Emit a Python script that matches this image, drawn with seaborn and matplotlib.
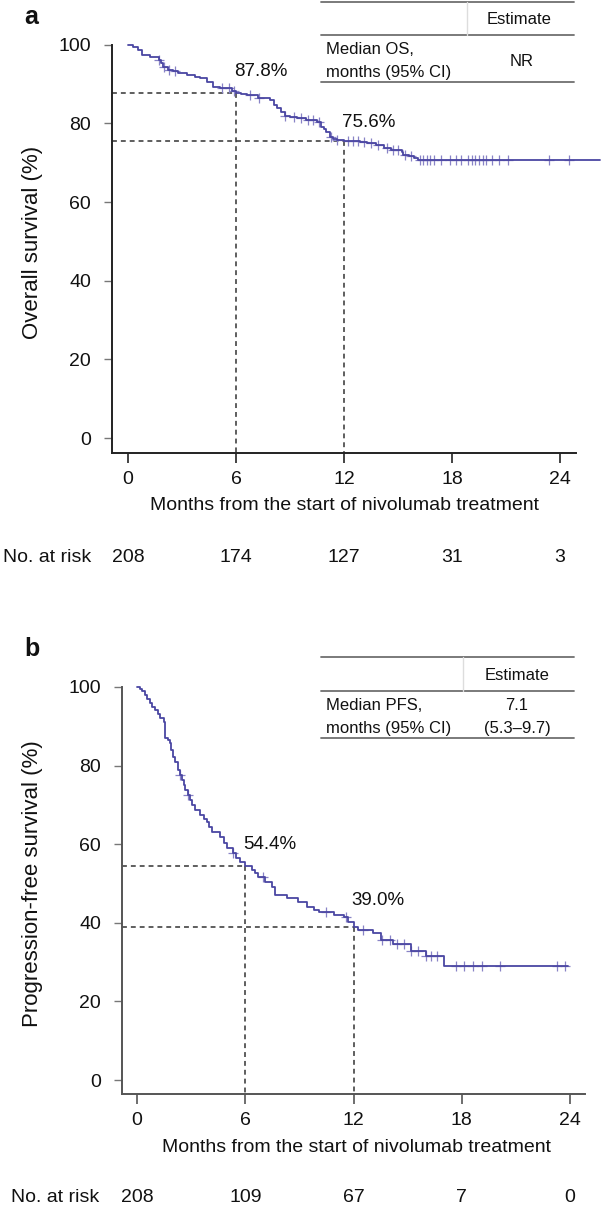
import numpy as np
import pandas as pd
import matplotlib
matplotlib.use("Agg")
import matplotlib.pyplot as plt
import seaborn as sns
from matplotlib.transforms import blended_transform_factory

# ---------------- data ----------------
x_ticks = [0, 6, 12, 18, 24]
y_ticks = [0, 20, 40, 60, 80, 100]

# Overall survival (panel a)
os_event_times = [0.3, 0.55, 0.8, 1.2, 1.7, 1.85, 1.95, 2.2, 2.5, 2.8, 3.3, 3.7, 4.0,
                  4.4, 4.7, 5.1, 5.5, 5.8, 6.0, 6.3, 6.6, 7.2, 7.9, 8.1, 8.3, 8.5,
                  8.7, 9.0, 9.4, 9.9, 10.5, 10.7, 10.9, 11.0, 11.2, 11.4, 11.6, 12.0,
                  12.9, 13.3, 13.8, 14.2, 14.6, 15.2, 15.3, 15.6, 15.9, 16.1]
os_surv = [99.5, 98.7, 97.4, 97.0, 96.1, 95.3, 94.4, 93.6, 93.2, 92.8, 92.3, 91.9, 91.5,
           90.5, 89.2, 89.1, 89.0, 88.2, 87.8, 87.5, 87.2, 86.4, 85.9, 84.7, 83.8, 82.9,
           82.0, 81.7, 81.4, 80.9, 80.3, 79.1, 78.5, 77.8, 76.5, 76.1, 75.8, 75.6,
           75.3, 75.0, 74.5, 73.7, 73.2, 72.7, 71.9, 71.6, 71.2, 70.6]
os_end_time = 26.2
os_censor_times = [1.7, 2.0, 2.3, 2.6, 5.2, 5.6, 5.9, 6.8, 7.3, 8.7, 9.2, 9.6, 10.0,
                   10.3, 10.6, 11.3, 11.6, 12.2, 12.5, 12.8, 13.1, 13.5, 13.9, 14.4,
                   14.7, 15.0, 15.4, 15.7, 16.2, 16.4, 16.6, 16.8, 17.0, 17.4, 17.9,
                   18.2, 18.5, 18.9, 19.1, 19.3, 19.5, 19.7, 19.9, 20.2, 20.6, 21.1,
                   23.4, 24.5]
os_atrisk = [208, 174, 127, 31, 3]
os_landmarks = [6, 12]
os_landmark_vals = [87.8, 75.6]
os_landmark_labels = ["87.8%", "75.6%"]

# Progression-free survival (panel b)
pfs_event_times = [0.17, 0.3, 0.44, 0.55, 0.72, 0.85, 1.0, 1.15, 1.27, 1.5, 1.55, 1.7,
                   1.83, 1.9, 2.0, 2.1, 2.27, 2.4, 2.5, 2.6, 2.66, 2.8, 2.94, 3.05,
                   3.2, 3.5, 3.7, 3.9, 4.0, 4.15, 4.6, 4.8, 5.0, 5.3, 5.5, 5.7, 6.0,
                   6.4, 6.55, 6.7, 7.1, 7.5, 7.65, 8.3, 8.9, 9.4, 9.8, 10.1, 10.9,
                   11.5, 11.7, 12.0, 12.25, 13.1, 13.5, 14.2, 15.2, 16.0, 17.0]
pfs_surv = [99.5, 99.0, 98.0, 97.0, 95.9, 95.0, 94.1, 93.0, 92.1, 91.1, 87.0, 86.4,
            85.8, 84.0, 82.2, 80.8, 78.9, 77.5, 76.3, 75.0, 73.8, 72.5, 71.2, 70.0,
            68.7, 67.4, 66.5, 65.6, 64.3, 63.1, 61.8, 60.4, 59.0, 57.8, 56.6, 55.5,
            54.4, 53.4, 52.6, 51.7, 50.4, 49.1, 47.1, 46.3, 45.3, 44.0, 43.3, 42.7,
            42.0, 41.5, 40.2, 39.0, 38.2, 37.4, 35.6, 34.6, 32.8, 31.5, 29.1]
pfs_end_time = 23.9
pfs_censor_times = [2.4, 2.8, 5.3, 7.0, 10.5, 11.6, 12.5, 13.6, 14.0, 14.4, 14.8,
                    15.2, 15.6, 16.0, 16.3, 16.6, 17.7, 18.1, 18.6, 19.1, 20.1, 23.3, 23.7]
pfs_atrisk = [208, 109, 67, 7, 0]
pfs_landmarks = [6, 12]
pfs_landmark_vals = [54.4, 39.0]
pfs_landmark_labels = ["54.4%", "39.0%"]

# ---------------- style ----------------
sns.set_style("ticks")
plt.rcParams['font.family'] = ['Liberation Sans', 'DejaVu Sans']

W, H = 601, 1207
fig = plt.figure(figsize=(W / 100, H / 100), dpi=100)
fig.patch.set_facecolor("white")

CURVE = "#4a46a2"
CENS = "#8883c6"


def fx(x):
    return x / W


def fy(y):
    return 1 - y / H


def add_ax(l, r, t, b):
    return fig.add_axes([l / W, 1 - b / H, (r - l) / W, (b - t) / H])


def km_frame(event_times, surv, end_time):
    t = [0.0] + list(event_times) + [end_time]
    s = [100.0] + list(surv) + [surv[-1]]
    return pd.DataFrame({"time": t, "surv": s})


def censor_frame(km, ctimes):
    t = km["time"].to_numpy()
    s = km["surv"].to_numpy()
    idx = np.searchsorted(t, np.asarray(ctimes), side="right") - 1
    return pd.DataFrame({"time": ctimes, "surv": s[idx]})


def panel(ax, km, cens, xl, yl, spine_x_end, axis_color, landmarks, lvals,
          llabels, loffsets, ylabel, ylab_px, atrisk, atrisk_y, xlab_px, nar_x):
    ax.set_xlim(*xl)
    ax.set_ylim(*yl)
    for lm, v in zip(landmarks, lvals):
        ax.plot([xl[0], lm], [v, v], color="#333333", lw=1.1, ls=(0, (3.2, 2.6)),
                zorder=2)
        ax.plot([lm, lm], [v, yl[0]], color="#333333", lw=1.1, ls=(0, (3.2, 2.6)),
                zorder=2)
    sns.lineplot(data=km, x="time", y="surv", drawstyle="steps-post",
                 estimator=None, sort=False, color=CURVE, lw=1.3, ax=ax,
                 clip_on=False, zorder=4)
    sns.scatterplot(data=cens, x="time", y="surv", marker="+", s=55,
                    color=CENS, linewidth=0.9, ax=ax, clip_on=False, zorder=3)
    for lm, v, lab, off in zip(landmarks, lvals, llabels, loffsets):
        ax.text(lm - 0.12, v + off, lab, fontsize=13.5, ha="left", va="center",
                color="#111111")
    ax.set_xticks(x_ticks)
    ax.set_yticks(y_ticks)
    ax.set_xticklabels([str(v) for v in x_ticks])
    ax.set_yticklabels([str(v) for v in y_ticks])
    ax.tick_params(axis="y", length=6, width=1.0, pad=9, labelsize=14,
                   color="#777777", labelcolor="#111111")
    ax.tick_params(axis="x", length=7, width=1.2, pad=6, labelsize=14,
                   color=axis_color, labelcolor="#111111")
    ax.set_xlabel("")
    ax.set_ylabel("")
    for s in ["top", "right"]:
        ax.spines[s].set_visible(False)
    ax.spines["left"].set_bounds(yl[0], 100)
    ax.spines["bottom"].set_bounds(xl[0], spine_x_end)
    for s in ["left", "bottom"]:
        ax.spines[s].set_color(axis_color)
        ax.spines[s].set_linewidth(1.4)
    ax.patch.set_alpha(0)
    fig.text(fx(ylab_px[0]), fy(ylab_px[1]), ylabel, rotation=90, fontsize=16,
             ha="center", va="center", color="#111111")
    fig.text(fx(xlab_px[0]), fy(xlab_px[1]),
             "Months from the start of nivolumab treatment", fontsize=14,
             ha="center", va="center", color="#111111")
    tr = blended_transform_factory(ax.transData, fig.transFigure)
    fig.text(fx(nar_x), fy(atrisk_y), "No. at risk", fontsize=14, ha="left",
             va="center", color="#111111")
    for xt, n in zip(x_ticks, atrisk):
        ax.text(xt, fy(atrisk_y), str(n), transform=tr, fontsize=14,
                ha="center", va="center", color="#111111")


def table(top, mid, bot, sep_x, row_lines, value_lines, est_x):
    L, R = 321, 574
    for y in (top, mid, bot):
        fig.add_artist(plt.Line2D([fx(L), fx(R)], [fy(y), fy(y)],
                                  color="#6f6f6f", lw=1.3))
    fig.add_artist(plt.Line2D([fx(sep_x), fx(sep_x)], [fy(top), fy(mid)],
                              color="#dddddd", lw=1.0))
    fig.text(fx(est_x), fy((top + mid) / 2 + 1), "Estimate", fontsize=12,
             ha="center", va="center", color="#111111")
    r0 = mid + 15
    r1 = mid + 37
    fig.text(fx(326), fy(r0), row_lines[0], fontsize=12, ha="left",
             va="center", color="#111111")
    fig.text(fx(326), fy(r1), row_lines[1], fontsize=12, ha="left",
             va="center", color="#111111")
    if len(value_lines) == 1:
        fig.text(fx(est_x + 3), fy((r0 + r1) / 2), value_lines[0], fontsize=12,
                 ha="center", va="center", color="#111111")
    else:
        fig.text(fx(est_x), fy(r0), value_lines[0], fontsize=12,
                 ha="center", va="center", color="#111111")
        fig.text(fx(est_x), fy(r1), value_lines[1], fontsize=12,
                 ha="center", va="center", color="#111111")


# ---------------- panel a ----------------
ax1 = add_ax(112, 600, 44, 453)
km1 = km_frame(os_event_times, os_surv, os_end_time)
c1 = censor_frame(km1, os_censor_times)
panel(ax1, km1, c1, (-0.889, 26.22), (-3.81, 100.18), 24.89, "#222222",
      os_landmarks, os_landmark_vals, os_landmark_labels, [5.3, 4.5],
      "Overall survival (%)", (33, 242), os_atrisk, 557, (345, 506), 3)
fig.text(fx(24), fy(17), "a", fontsize=18, fontweight="bold", ha="left",
         va="center", color="#111111")
table(2, 35, 82, 467, ["Median OS,", "months (95% CI)"], ["NR"], 519)

# ---------------- panel b ----------------
ax2 = add_ax(122, 600, 686, 1094)
km2 = km_frame(pfs_event_times, pfs_surv, pfs_end_time)
c2 = censor_frame(km2, pfs_censor_times)
panel(ax2, km2, c2, (-0.831, 25.66), (-3.56, 100.25), 24.83, "#555555",
      pfs_landmarks, pfs_landmark_vals, pfs_landmark_labels, [5.4, 6.8],
      "Progression-free survival (%)", (33, 884), pfs_atrisk, 1197, (356, 1148), 11)
fig.text(fx(24), fy(649), "b", fontsize=18, fontweight="bold", ha="left",
         va="center", color="#111111")
table(657, 691, 738, 463, ["Median PFS,", "months (95% CI)"], ["7.1", "(5.3\u20139.7)"], 517)

fig.savefig("out.png", dpi=100, facecolor="white")
